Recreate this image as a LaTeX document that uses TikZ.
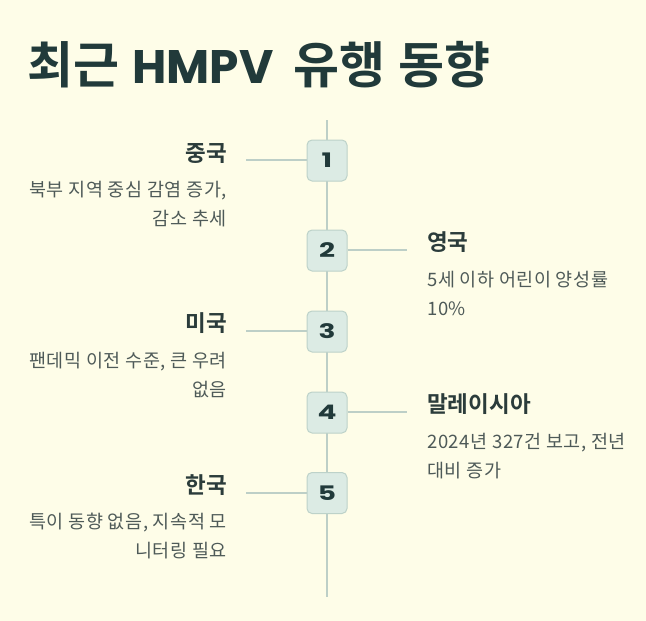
\documentclass[tikz,border=0pt]{standalone}
\usepackage{fontspec}
\setmainfont{Noto Sans CJK KR}[BoldFont={Noto Sans CJK KR Bold}]
\newfontfamily\descfont{Noto Sans CJK KR}[LetterSpace=3]
\newfontfamily\pop{Poppins}
\newfontfamily\popw{Poppins}[FakeStretch=1.4]
\definecolor{bg}{HTML}{FEFDE8}
\definecolor{titlec}{HTML}{213A3A}
\definecolor{headc}{HTML}{2B3C3B}
\definecolor{descc}{HTML}{4E5A58}
\definecolor{linec}{HTML}{BDCFC7}
\definecolor{boxfill}{HTML}{DCEBE4}
\definecolor{boxborder}{HTML}{BDD2C9}
\tikzset{
  numbox/.style={draw=boxborder, fill=boxfill, rounded corners=5pt, minimum width=40pt, minimum height=41pt, inner sep=0pt, line width=1pt, font=\popw\bfseries\fontsize{20}{20}\selectfont, text=titlec},
  heading/.style={inner sep=0pt, font=\bfseries\fontsize{22.5}{22.5}\selectfont, text=headc},
  desc/.style={inner sep=0pt, font=\descfont\fontsize{18.5}{20}\selectfont, text=descc},
  conn/.style={draw=linec, line width=2pt}
}
\begin{document}
\begin{tikzpicture}[x=1pt,y=-1pt]
\fill[bg] (0,0) rectangle (646,621);
\useasboundingbox (0,0) rectangle (646,621);
\node[anchor=base west, inner sep=0pt, text=titlec, font=\bfseries\fontsize{50}{50}\selectfont] (title) at (27,83) {최근\hspace{13pt}{\pop\fontsize{47}{47}\selectfont HMPV}\hspace{20pt}유행\hspace{13pt}동향};
% timeline
\coordinate (top) at (327,120);
\coordinate (bot) at (327,597);
\draw[conn] (top) -- (bot);
\node[numbox] (b1) at (327,160.5) {1};
\node[numbox] (b2) at (327,250.5) {2};
\node[numbox] (b3) at (327,331.5) {3};
\node[numbox] (b4) at (327,412.5) {4};
\node[numbox] (b5) at (327,493) {5};
% connectors
\coordinate (c1) at (246,160);
\coordinate (c2) at (407,250);
\coordinate (c3) at (246,331);
\coordinate (c4) at (407,412);
\coordinate (c5) at (246,493);
\draw[conn] (b1.west |- c1) -- (c1);
\draw[conn] (b2.east |- c2) -- (c2);
\draw[conn] (b3.west |- c3) -- (c3);
\draw[conn] (b4.east |- c4) -- (c4);
\draw[conn] (b5.west |- c5) -- (c5);
% item 1
\node[heading, anchor=base east] (h1) at (227,161) {중국};
\node[desc, anchor=base east] (d1a) at (227,196) {북부 지역 중심 감염 증가,};
\node[desc, anchor=base east] (d1b) at (227,225) {감소 추세};
% item 2
\node[heading, anchor=base west] (h2) at (427,250) {영국};
\node[desc, anchor=base west] (d2a) at (427,286) {5세 이하 어린이 양성률};
\node[desc, anchor=base west] (d2b) at (427,315) {10\%};
% item 3
\node[heading, anchor=base east] (h3) at (227,331) {미국};
\node[desc, anchor=base east] (d3a) at (227,367) {팬데믹 이전 수준, 큰 우려};
\node[desc, anchor=base east] (d3b) at (227,396) {없음};
% item 4
\node[heading, anchor=base west] (h4) at (427,412) {말레이시아};
\node[desc, anchor=base west] (d4a) at (427,448) {2024년 327건 보고, 전년};
\node[desc, anchor=base west] (d4b) at (427,477) {대비 증가};
% item 5
\node[heading, anchor=base east] (h5) at (227,493) {한국};
\node[desc, anchor=base east] (d5a) at (227,528) {특이 동향 없음, 지속적 모};
\node[desc, anchor=base east] (d5b) at (227,557) {니터링 필요};
\end{tikzpicture}
\end{document}
